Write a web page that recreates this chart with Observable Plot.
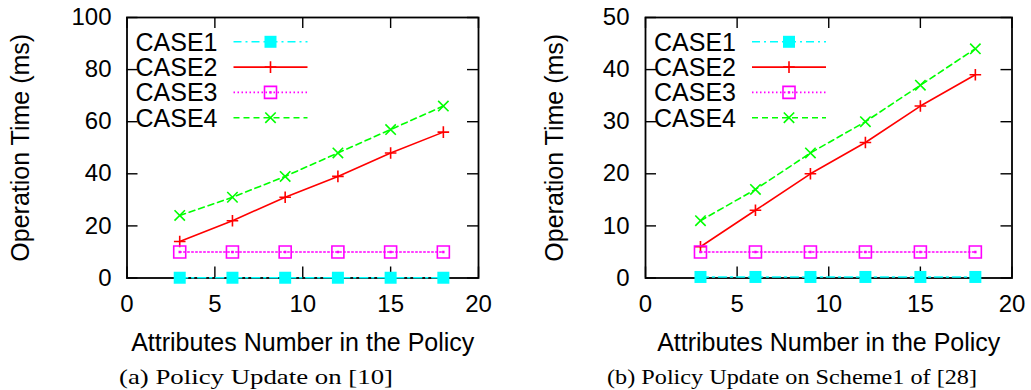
<!DOCTYPE html>
<html><head><meta charset="utf-8">
<script src="https://cdn.jsdelivr.net/npm/d3@7"></script>
<script src="https://cdn.jsdelivr.net/npm/@observablehq/plot@0.6"></script>
<style>
body{margin:0;background:#fff;}
#wrap{position:relative;width:1031px;height:390px;overflow:hidden;background:#fff;}
.panel{position:absolute;top:0;}
#cap{position:absolute;left:0;top:355px;}
</style></head><body><div id="wrap"></div>
<script>
// ---- data ----
const attributes = [3, 6, 9, 12, 15, 18];
const seriesNames = ["CASE1", "CASE2", "CASE3", "CASE4"];
// panel (a)
const case1A = [0.1, 0.1, 0.1, 0.1, 0.1, 0.1];
const case2A = [14, 22, 31, 39, 48, 56];
const case3A = [10, 10, 10, 10, 10, 10];
const case4A = [24, 31, 39, 48, 57, 66];
// panel (b)
const case1B = [0.2, 0.2, 0.2, 0.2, 0.2, 0.2];
const case2B = [6, 13, 20, 26, 33, 39];
const case3B = [5, 5, 5, 5, 5, 5];
const case4B = [11, 17, 24, 30, 37, 44];
const xTicks = [0, 5, 10, 15, 20];
const yTicksA = [0, 20, 40, 60, 80, 100];
const yTicksB = [0, 10, 20, 30, 40, 50];
const xTitle = "Attributes Number in the Policy";
const yTitle = "Operation Time (ms)";
const captionA = "(a) Policy Update on [10]";
const captionB = "(b) Policy Update on Scheme1 of [28]";

// ---- symbols ----
const rOf = size => Math.sqrt(size / Math.PI);
const symSquare = {draw(c, s){const r=rOf(s); c.moveTo(-r,-r); c.lineTo(r,-r); c.lineTo(r,r); c.lineTo(-r,r); c.closePath();}};
const symBoxDot = {draw(c, s){const r=rOf(s); c.moveTo(-r,-r); c.lineTo(r,-r); c.lineTo(r,r); c.lineTo(-r,r); c.closePath();
  c.moveTo(-0.4,-0.4); c.lineTo(0.4,-0.4); c.lineTo(0.4,0.4); c.lineTo(-0.4,0.4); c.closePath();}};
const symPlus = {draw(c, s){const r=rOf(s); c.moveTo(-r,0); c.lineTo(r,0); c.moveTo(0,-r); c.lineTo(0,r);}};
const symTimes = {draw(c, s){const r=rOf(s); c.moveTo(-r,-r); c.lineTo(r,r); c.moveTo(-r,r); c.lineTo(r,-r);}};

const styles = [
  {color: "#00ffff", dash: "8,4,2,4", symbol: symSquare, r: 6, filled: true},
  {color: "#ff0000", dash: null, symbol: symPlus, r: 5.8, filled: false},
  {color: "#ff00ff", dash: "1.5,2.5", symbol: symBoxDot, r: 6, filled: false},
  {color: "#00ff00", dash: "6,4", symbol: symTimes, r: 5.2, filled: false}
];

const rows = vals => attributes.map((a, i) => ({x: a, y: vals[i]}));

function panel({values, yTicks, yMax, marginLeft, marginRight, yTitleDx, tickPad, left}) {
  const W = 515, H = 355, mt = 17, mb = 77.5;
  const fw = W - marginLeft - marginRight, fh = H - mt - mb;
  const marks = [
    Plot.frame({stroke: "black", strokeWidth: 1.8}),
    Plot.tickX(xTicks, {x: d => d, insetTop: fh - 11, stroke: "black", strokeWidth: 1.4}),
    Plot.tickX(xTicks, {x: d => d, insetBottom: fh - 11, stroke: "black", strokeWidth: 1.4}),
    Plot.tickY(yTicks, {y: d => d, insetRight: fw - 11, stroke: "black", strokeWidth: 1.4}),
    Plot.tickY(yTicks, {y: d => d, insetLeft: fw - 11, stroke: "black", strokeWidth: 1.4}),
    Plot.axisX({ticks: xTicks, tickSize: 0, tickPadding: 17, fontSize: 24, label: null}),
    Plot.axisY({ticks: yTicks, tickSize: 0, tickPadding: tickPad, fontSize: 24, label: null}),
    Plot.text([xTitle], {text: d => d, frameAnchor: "bottom", dy: 64.5, fontSize: 25, textAnchor: "middle", lineAnchor: "middle"}),
    Plot.text([yTitle], {text: d => d, frameAnchor: "left", dx: yTitleDx, rotate: -90, fontSize: 25, textAnchor: "middle", lineAnchor: "middle"})
  ];
  values.forEach((vals, i) => {
    const st = styles[i];
    marks.push(Plot.line(rows(vals), {x: "x", y: "y", stroke: st.color, strokeWidth: 1.6, strokeDasharray: st.dash}));
  });
  values.forEach((vals, i) => {
    const st = styles[i];
    marks.push(Plot.dot(rows(vals), st.filled
      ? {x: "x", y: "y", symbol: st.symbol, r: st.r, fill: st.color, stroke: "none"}
      : {x: "x", y: "y", symbol: st.symbol, r: st.r, fill: "none", stroke: st.color, strokeWidth: 1.6}));
  });
  const svg = Plot.plot({
    width: W, height: H,
    marginTop: mt, marginBottom: mb, marginLeft, marginRight,
    x: {domain: [0, 20], axis: null},
    y: {domain: [0, yMax], axis: null},
    style: {fontFamily: "'Liberation Sans', Arial, Helvetica, sans-serif", fontSize: "24px", color: "black", background: "white", overflow: "visible"},
    marks
  });
  // legend (key) inside top-left
  const g = d3.select(svg).append("g");
  seriesNames.forEach((name, i) => {
    const st = styles[i];
    const y = mt + 24.8 + i * 25.3;
    g.append("text").attr("x", marginLeft + 9).attr("y", y).attr("dy", "0.36em")
      .attr("text-anchor", "start").style("font-size", "25px").attr("fill", "black").text(name);
    g.append("line").attr("x1", marginLeft + 107).attr("x2", marginLeft + 181).attr("y1", y).attr("y2", y)
      .attr("stroke", st.color).attr("stroke-width", 1.6).attr("stroke-dasharray", st.dash);
    g.append("path").attr("transform", `translate(${marginLeft + 144},${y})`)
      .attr("d", d3.symbol(st.symbol, Math.PI * st.r * st.r)())
      .attr("fill", st.filled ? st.color : "none")
      .attr("stroke", st.filled ? "none" : st.color).attr("stroke-width", 1.6);
  });
  svg.classList.add("panel");
  svg.style.position = "absolute";
  svg.style.left = left + "px";
  svg.style.top = "0px";
  return svg;
}

const wrap = document.getElementById("wrap");
wrap.appendChild(panel({values: [case1A, case2A, case3A, case4A], yTicks: yTicksA, yMax: 100,
  marginLeft: 126.5, marginRight: 37, yTitleDx: -106, tickPad: 15.5, left: 0}));
wrap.appendChild(panel({values: [case1B, case2B, case3B, case4B], yTicks: yTicksB, yMax: 50,
  marginLeft: 130, marginRight: 18.5, yTitleDx: -90.6, tickPad: 16, left: 515}));

// captions
const cap = d3.select(wrap).append("svg").attr("id", "cap").attr("width", 1031).attr("height", 35);
[[captionA, 119, 274], [captionB, 607, 370]].forEach(([t, x, len]) => {
  cap.append("text").attr("x", x).attr("y", 29).attr("textLength", len).attr("lengthAdjust", "spacingAndGlyphs")
    .attr("font-family", "'Liberation Serif', 'Times New Roman', serif").attr("font-size", 21)
    .attr("fill", "black").text(t);
});
</script>
</body></html>
